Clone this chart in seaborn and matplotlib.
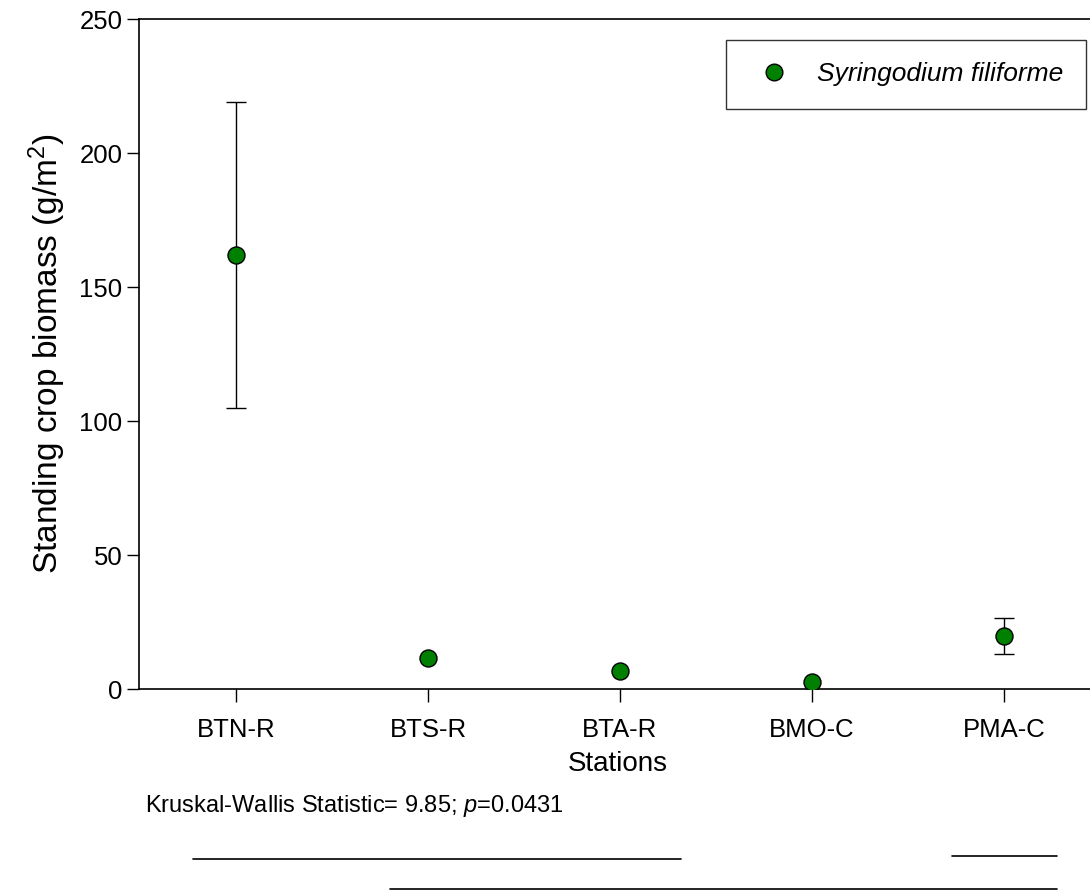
import matplotlib
matplotlib.use("Agg")
import matplotlib.pyplot as plt
import seaborn as sns
import pandas as pd
from matplotlib.lines import Line2D

stations = ["BTN-R", "BTS-R", "BTA-R", "BMO-C", "PMA-C"]
biomass = [162.0, 11.7, 6.6, 2.6, 19.7]
errors = [57.0, 0.0, 0.0, 0.0, 6.8]
y_ticks = [0, 50, 100, 150, 200, 250]
species = "Syringodium filiforme"

sns.set_theme(style="ticks")
plt.rcParams['font.family'] = ['Liberation Sans', 'DejaVu Sans']
plt.rcParams['text.color'] = 'black'
plt.rcParams['mathtext.fontset'] = 'custom'
plt.rcParams['mathtext.rm'] = 'Liberation Sans'
plt.rcParams['mathtext.it'] = 'Liberation Sans:italic'

fig = plt.figure(figsize=(10.9, 8.96), dpi=100)
ax = fig.add_axes([139/1090, 207/896, (1096-139)/1090, 670/896])

df = pd.DataFrame({"Station": stations, "Biomass": biomass, "Err": errors})

xpos = list(range(len(stations)))
for x, y, e in zip(xpos, biomass, errors):
    if e > 0:
        ax.errorbar(x, y, yerr=e, fmt="none", ecolor="black", elinewidth=1.0,
                    capsize=7, capthick=1.0, zorder=2)

sns.scatterplot(data=df, x="Station", y="Biomass", ax=ax, s=150, color="#008000",
                edgecolor="black", linewidth=1.0, zorder=3, label=species, legend=False)

ax.set_xlim(-0.505, 4.479)
ax.set_ylim(0, 250)
ax.set_yticks(y_ticks)
ax.set_xticks(xpos)
ax.set_xticklabels(stations)
ax.tick_params(axis="both", direction="out", length=9, width=1, labelsize=18.5, colors="black", pad=3)
ax.tick_params(axis="x", pad=12)

for side in ["left", "bottom", "top"]:
    ax.spines[side].set_color("black")
    ax.spines[side].set_linewidth(1.2)
ax.spines["right"].set_visible(False)

ax.set_xlabel("Stations", fontsize=20, labelpad=6, color="black")
ax.set_ylabel("Standing crop biomass (g/m$^2$)", fontsize=24, labelpad=8, color="black")

handle = Line2D([], [], marker="o", linestyle="none", markersize=12,
                markerfacecolor="#008000", markeredgecolor="black", markeredgewidth=1.0)
leg = ax.legend([handle], [species], loc="upper right",
                bbox_to_anchor=(1086/1090, 856/896), bbox_transform=fig.transFigure,
                prop={"style": "italic", "size": 19}, frameon=True, fancybox=False,
                borderpad=0.85, handletextpad=0.7, borderaxespad=0, handlelength=1.9,
                labelcolor="black")
leg.get_frame().set_edgecolor("black")
leg.get_frame().set_linewidth(1.0)

fig.text(145/1090, 1 - 806/896, "Kruskal-Wallis Statistic= 9.85; $\\mathit{p}$=0.0431",
         fontsize=17, va="center", ha="left", color="black")

H = 896
W = 1090
for (x0, x1, y) in [(193, 681, 859), (952, 1057, 856), (390, 1057, 889)]:
    fig.add_artist(Line2D([x0/W, x1/W], [1 - y/H, 1 - y/H], color="black", linewidth=1.2))

fig.savefig("out.png", dpi=100)
